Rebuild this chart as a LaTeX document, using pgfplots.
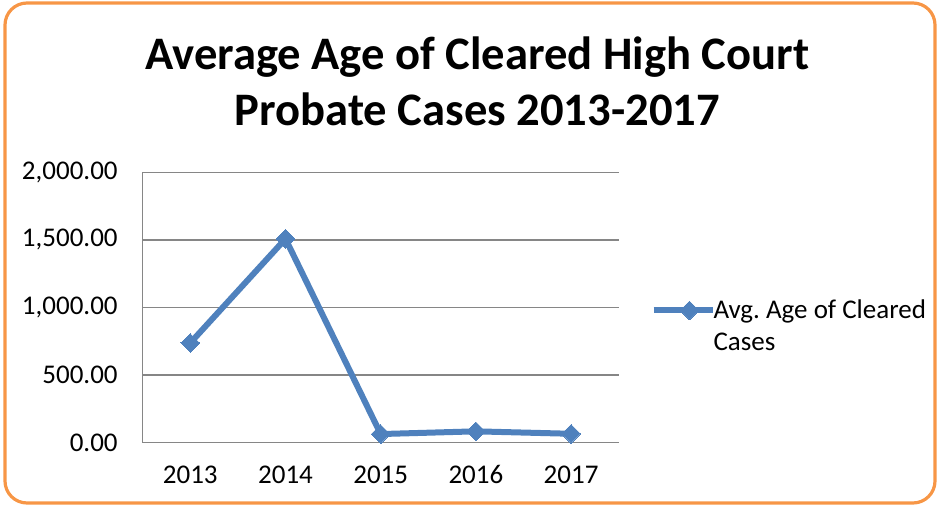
\documentclass[border=0pt]{standalone}
\usepackage{pgfplots}
\pgfplotsset{compat=1.18}
\usepackage{fontspec}
\setmainfont{Carlito}
\definecolor{excelblue}{HTML}{4F81BD}
\definecolor{excelorange}{HTML}{F79646}
\definecolor{gridgray}{HTML}{868686}
\begin{document}
\frenchspacing
\begin{tikzpicture}
\useasboundingbox (0,0) rectangle (468.5pt,252.5pt);
\draw[excelorange, line width=1.6pt, rounded corners=11pt] (2.5pt,1pt) rectangle (467.5pt,251pt);
% title, two lines
\node[anchor=base, inner sep=0pt, font=\fontsize{23.3}{27}\selectfont\bfseries] at (238.7pt,218pt) {Average Age of Cleared High Court};
\node[anchor=base, inner sep=0pt, font=\fontsize{23.3}{27}\selectfont\bfseries] at (238.7pt,190pt) {Probate Cases 2013-2017};
\begin{axis}[
  at={(71.35pt,31.15pt)}, anchor=south west,
  scale only axis,
  width=238pt, height=135.2pt,
  xmin=0.5, xmax=5.5,
  ymin=0, ymax=2000,
  xtick={1,2,3,4,5},
  xticklabels={2013,2014,2015,2016,2017},
  ytick={0,500,1000,1500,2000},
  axis lines=left,
  axis line style={-, gridgray, line width=0.75pt},
  ymajorgrids,
  grid style={gridgray, line width=0.75pt},
  major tick length=0pt,
  tick label style={font=\fontsize{13.5}{16}\selectfont},
  /pgf/number format/assume math mode=true,
  yticklabel={\pgfmathprintnumber[fixed, fixed zerofill, precision=2, 1000 sep={,}]{\tick}},
  yticklabel style={xshift=-9pt},
  xticklabel style={anchor=base, yshift=-20.2pt},
  legend style={at={(1.066,0.43)}, anchor=west, draw=none, fill=none, inner sep=0pt,
    font=\fontsize{13.5}{16}\selectfont, nodes={align=left, inner sep=0.5pt}},
  legend cell align=left,
  legend image code/.code={
    \path[use as bounding box] (0pt,8pt) -- (28pt,8pt);
    \draw[overlay, mark repeat=2, mark phase=2, #1] plot coordinates {(6.5pt,8pt) (18pt,8pt) (29.5pt,8pt)};},
]
\addplot[excelblue, line width=3pt, mark=square*, mark size=3.3pt,
  mark options={rotate=45, solid, line width=0pt}]
  coordinates {(1,738) (2,1508) (3,64) (4,84) (5,66)};
\addlegendentry{Avg. Age of Cleared\\Cases}
\end{axis}
\end{tikzpicture}
\end{document}
